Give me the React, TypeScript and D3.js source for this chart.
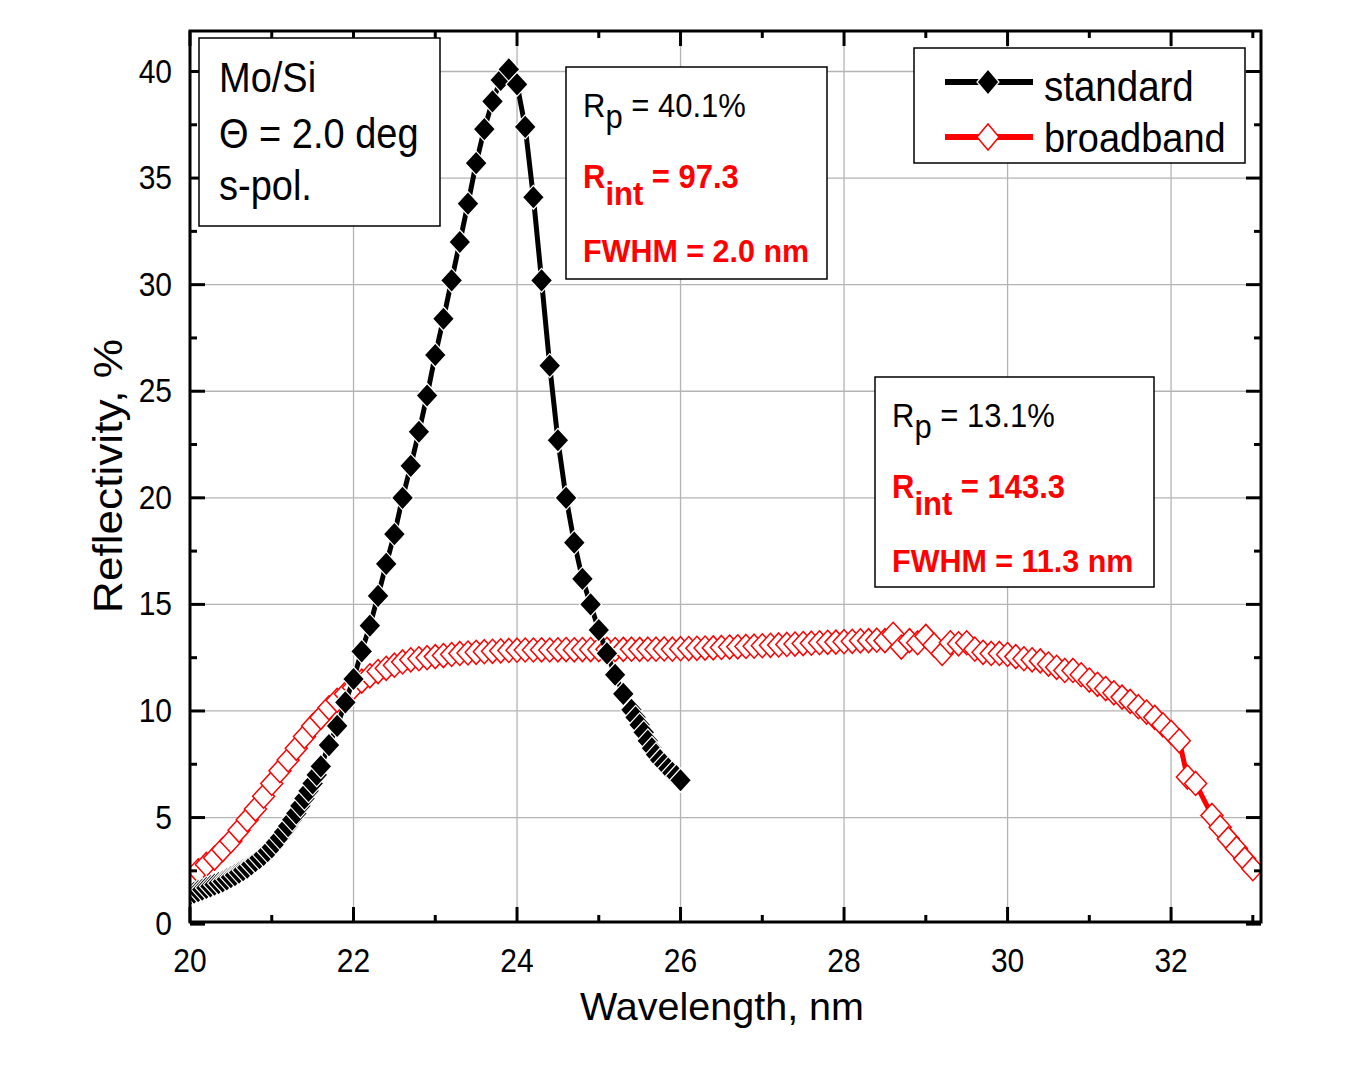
import React from 'react';
import * as d3 from 'd3';

// ---------- data ----------
const standardWl = [
  20.0, 20.05, 20.1, 20.15, 20.2, 20.25, 20.3, 20.35, 20.4, 20.45,
  20.5, 20.55, 20.6, 20.65, 20.7, 20.75, 20.8, 20.85, 20.9, 20.95,
  21.0, 21.05, 21.1, 21.15, 21.2, 21.25, 21.3, 21.35, 21.4, 21.45,
  21.5, 21.55, 21.6, 21.7, 21.8, 21.9, 22.0, 22.1, 22.2, 22.3,
  22.4, 22.5, 22.6, 22.7, 22.8, 22.9, 23.0, 23.1, 23.2, 23.3,
  23.4, 23.5, 23.6, 23.7, 23.8, 23.9, 24.0, 24.1, 24.2, 24.3,
  24.4, 24.5, 24.6, 24.7, 24.8, 24.9, 25.0, 25.1, 25.2, 25.3,
  25.4, 25.45, 25.5, 25.55, 25.6, 25.65, 25.7, 25.75, 25.8, 25.85,
  25.9, 25.95, 26.0,
];
const standardR = [
  1.4, 1.48, 1.55, 1.62, 1.7, 1.77, 1.85, 1.92, 2.0, 2.1,
  2.2, 2.3, 2.42, 2.53, 2.65, 2.8, 2.95, 3.1, 3.25, 3.42,
  3.6, 3.82, 4.05, 4.32, 4.6, 4.9, 5.2, 5.55, 5.9, 6.25,
  6.6, 7.0, 7.4, 8.4, 9.3, 10.4, 11.5, 12.8, 14.0, 15.4,
  16.9, 18.3, 20.0, 21.5, 23.1, 24.8, 26.7, 28.4, 30.2, 32.0,
  33.8, 35.7, 37.3, 38.6, 39.6, 40.1, 39.4, 37.4, 34.1, 30.2,
  26.2, 22.7, 20.0, 17.9, 16.2, 15.0, 13.8, 12.7, 11.7, 10.8,
  10.05, 9.7, 9.35, 9.0, 8.6, 8.25, 7.95, 7.7, 7.5, 7.3,
  7.1, 6.95, 6.75,
];

const broadbandWl = [
  20.0, 20.1, 20.2, 20.3, 20.4, 20.5, 20.6, 20.7, 20.8, 20.9,
  21.0, 21.1, 21.2, 21.3, 21.4, 21.5, 21.6, 21.7, 21.8, 21.9,
  22.0, 22.1, 22.2, 22.3, 22.4, 22.5, 22.6, 22.7, 22.8, 22.9,
  23.0, 23.1, 23.2, 23.3, 23.4, 23.5, 23.6, 23.7, 23.8, 23.9,
  24.0, 24.1, 24.2, 24.3, 24.4, 24.5, 24.6, 24.7, 24.8, 24.9,
  25.0, 25.1, 25.2, 25.3, 25.4, 25.5, 25.6, 25.7, 25.8, 25.9,
  26.0, 26.1, 26.2, 26.3, 26.4, 26.5, 26.6, 26.7, 26.8, 26.9,
  27.0, 27.1, 27.2, 27.3, 27.4, 27.5, 27.6, 27.7, 27.8, 27.9,
  28.0, 28.1, 28.2, 28.3, 28.4, 28.5, 28.6, 28.7, 28.8, 28.9,
  29.0, 29.1, 29.2, 29.3, 29.4, 29.5, 29.6, 29.7, 29.8, 29.9,
  30.0, 30.1, 30.2, 30.3, 30.4, 30.5, 30.6, 30.7, 30.8, 30.9,
  31.0, 31.1, 31.2, 31.3, 31.4, 31.5, 31.6, 31.7, 31.8, 31.9,
  32.0, 32.1, 32.2, 32.3,
  32.5, 32.6, 32.7, 32.8, 32.9, 33.0,
];
const broadbandR = [
  2.2, 2.5, 2.8, 3.1, 3.5, 3.9, 4.4, 4.9, 5.4, 6.0,
  6.6, 7.2, 7.7, 8.25, 8.8, 9.3, 9.7, 10.15, 10.5, 10.8,
  11.1, 11.4, 11.65, 11.85, 12.0, 12.15, 12.3, 12.4, 12.45, 12.5,
  12.55, 12.6, 12.65, 12.7, 12.72, 12.75, 12.78, 12.8, 12.82, 12.84,
  12.85, 12.86, 12.86, 12.87, 12.86, 12.87, 12.88, 12.87, 12.88, 12.88,
  12.88, 12.89, 12.88, 12.89, 12.9, 12.89, 12.9, 12.9, 12.91, 12.9,
  12.92, 12.93, 12.94, 12.95, 12.96, 12.98, 13.0, 13.01, 13.03, 13.04,
  13.06, 13.08, 13.1, 13.12, 13.14, 13.16, 13.18, 13.2, 13.22, 13.23,
  13.25, 13.27, 13.29, 13.3, 13.32, 13.3, 13.6, 13.0, 13.3, 13.2,
  13.5, 13.1, 12.7, 13.2, 13.15, 13.2, 12.9, 12.75, 12.7, 12.7,
  12.65, 12.55, 12.45, 12.4, 12.35, 12.2, 12.05, 11.9, 11.9, 11.7,
  11.45, 11.25, 11.05, 10.85, 10.65, 10.45, 10.2, 9.95, 9.7, 9.35,
  9.0, 8.6, 6.9, 6.6,
  5.1, 4.55, 4.0, 3.55, 3.05, 2.6,
];

const xMajorTicks = [20, 22, 24, 26, 28, 30, 32];
const xMinorTicks = [21, 23, 25, 27, 29, 31, 33];
const yMajorTicks = [0, 5, 10, 15, 20, 25, 30, 35, 40];
const yMinorTicks = [2.5, 7.5, 12.5, 17.5, 22.5, 27.5, 32.5, 37.5];

const conditionLines = ['Mo/Si', 'Θ = 2.0 deg', 's-pol.'];
const seriesNames = ['standard', 'broadband'];
const standardStats = ['40.1%', '97.3', '2.0 nm'];
const broadbandStats = ['13.1%', '143.3', '11.3 nm'];

const FONT = '"Liberation Sans", Arial, Helvetica, sans-serif';
const DIAMOND = 'M0,-12L11,0L0,12L-11,0Z';

const L = 190, R = 1261, T = 31, B = 922;

function StretchText({ x, y, size, sy = 1.1, bold = false, fill = '#000', anchor = 'start', children }: any) {
  return (
    <text
      transform={`translate(${x},${y}) scale(1,${sy})`}
      fontFamily={FONT}
      fontSize={size}
      fontWeight={bold ? 'bold' : 'normal'}
      fill={fill}
      textAnchor={anchor}
    >
      {children}
    </text>
  );
}

function StatsBox({ x, y, w, h, stats }: any) {
  const tx = x + 17;
  return (
    <g>
      <rect x={x} y={y} width={w} height={h} fill="#fff" stroke="#000" strokeWidth={1.5} />
      <StretchText x={tx} y={y + 50} size={31} sy={1.1}>
        R<tspan dy={10}>p</tspan><tspan dy={-10}>{' = ' + stats[0]}</tspan>
      </StretchText>
      <StretchText x={tx} y={y + 121} size={31} sy={1.05} bold fill="#ff0000">
        R<tspan dy={16}>int</tspan><tspan dy={-16}>{' = ' + stats[1]}</tspan>
      </StretchText>
      <StretchText x={tx} y={y + 195} size={30.5} sy={1.05} bold fill="#ff0000">
        {'FWHM = ' + stats[2]}
      </StretchText>
    </g>
  );
}

export default function App() {
  const x = d3.scaleLinear().domain([20, 33.1]).range([L, R]);
  const y = d3.scaleLinear().domain([0.1, 41.9]).range([B, T]);

  const std = standardWl.map((w, i) => [w, standardR[i]] as [number, number]);
  const bb = broadbandWl.map((w, i) => [w, broadbandR[i]] as [number, number]);
  const line = d3.line<[number, number]>().x(d => x(d[0])).y(d => y(d[1]));

  const grid = '#b4b4b4';

  return (
    <svg width={1355} height={1070} style={{ position: 'absolute', left: 0, top: 0, background: '#fff' }}>
      <defs>
        <clipPath id="plotclip">
          <rect x={L} y={T} width={R - L} height={B - T} />
        </clipPath>
      </defs>
      <rect x={0} y={0} width={1355} height={1070} fill="#fff" />

      {/* grid */}
      {xMajorTicks.filter(t => t > 20).map(t => (
        <line key={'gx' + t} x1={x(t)} x2={x(t)} y1={T} y2={B} stroke={grid} strokeWidth={1.3} />
      ))}
      {yMajorTicks.filter(t => t > 0).map(t => (
        <line key={'gy' + t} x1={L} x2={R} y1={y(t)} y2={y(t)} stroke={grid} strokeWidth={1.3} />
      ))}

      {/* series */}
      <g clipPath="url(#plotclip)">
        <path d={line(bb) || ''} fill="none" stroke="#ff0000" strokeWidth={5} />
        {bb.map((d, i) => (
          <path key={'b' + i} d={DIAMOND} transform={`translate(${x(d[0])},${y(d[1])})`}
            fill="#fff" stroke="#ff0000" strokeWidth={1.5} />
        ))}
        <path d={line(std) || ''} fill="none" stroke="#000" strokeWidth={5} />
        {std.map((d, i) => (
          <path key={'s' + i} d={DIAMOND} transform={`translate(${x(d[0])},${y(d[1])})`}
            fill="#000" stroke="#fff" strokeWidth={1.2} />
        ))}
      </g>

      {/* ticks */}
      {xMajorTicks.map(t => (
        <g key={'xt' + t}>
          <line x1={x(t)} x2={x(t)} y1={B} y2={B - 15} stroke="#000" strokeWidth={3} />
          <line x1={x(t)} x2={x(t)} y1={T} y2={T + 15} stroke="#000" strokeWidth={3} />
        </g>
      ))}
      {xMinorTicks.map(t => (
        <g key={'xm' + t}>
          <line x1={x(t)} x2={x(t)} y1={B} y2={B - 7} stroke="#000" strokeWidth={3} />
          <line x1={x(t)} x2={x(t)} y1={T} y2={T + 7} stroke="#000" strokeWidth={3} />
        </g>
      ))}
      {yMajorTicks.map(t => (
        <g key={'yt' + t}>
          <line x1={L} x2={L + 15} y1={y(t)} y2={y(t)} stroke="#000" strokeWidth={3} />
          <line x1={R} x2={R - 15} y1={y(t)} y2={y(t)} stroke="#000" strokeWidth={3} />
        </g>
      ))}
      {yMinorTicks.map(t => (
        <g key={'ym' + t}>
          <line x1={L} x2={L + 7} y1={y(t)} y2={y(t)} stroke="#000" strokeWidth={3} />
          <line x1={R} x2={R - 7} y1={y(t)} y2={y(t)} stroke="#000" strokeWidth={3} />
        </g>
      ))}
      <rect x={L} y={T} width={R - L} height={B - T} fill="none" stroke="#000" strokeWidth={3} />

      {/* tick labels */}
      {xMajorTicks.map(t => (
        <StretchText key={'xl' + t} x={x(t)} y={972} size={30} sy={1.08} anchor="middle">{t}</StretchText>
      ))}
      {yMajorTicks.map(t => (
        <StretchText key={'yl' + t} x={172} y={y(t) + 11} size={30} sy={1.08} anchor="end">{t}</StretchText>
      ))}

      {/* axis titles */}
      <text x={722} y={1020} fontFamily={FONT} fontSize={39.5} textAnchor="middle">Wavelength, nm</text>
      <text transform="translate(122,476) rotate(-90)" fontFamily={FONT} fontSize={40}
        textAnchor="middle" textLength={274} lengthAdjust="spacingAndGlyphs">Reflectivity, %</text>

      {/* condition box */}
      <rect x={199} y={38} width={241} height={188} fill="#fff" stroke="#000" strokeWidth={1.5} />
      {conditionLines.map((s, i) => (
        <StretchText key={'c' + i} x={219} y={[92, 148, 200][i]} size={38} sy={1.1}>{s}</StretchText>
      ))}

      {/* stats boxes */}
      <StatsBox x={566} y={67} w={261} h={212} stats={standardStats} />
      <StatsBox x={875} y={377} w={279} h={210} stats={broadbandStats} />

      {/* legend */}
      <rect x={914} y={48} width={331} height={115} fill="#fff" stroke="#000" strokeWidth={1.5} />
      <line x1={945} x2={1033} y1={82} y2={82} stroke="#000" strokeWidth={6} />
      <path d="M0,-13L11,0L0,13L-11,0Z" transform="translate(988,82)" fill="#000" stroke="#fff" strokeWidth={1.2} />
      <line x1={945} x2={1033} y1={137} y2={137} stroke="#ff0000" strokeWidth={6} />
      <path d="M0,-13L11,0L0,13L-11,0Z" transform="translate(988,137)" fill="#fff" stroke="#ff0000" strokeWidth={1.5} />
      <StretchText x={1044} y={101} size={38.5} sy={1.08}>{seriesNames[0]}</StretchText>
      <StretchText x={1044} y={152} size={38} sy={1.08}>{seriesNames[1]}</StretchText>
    </svg>
  );
}
